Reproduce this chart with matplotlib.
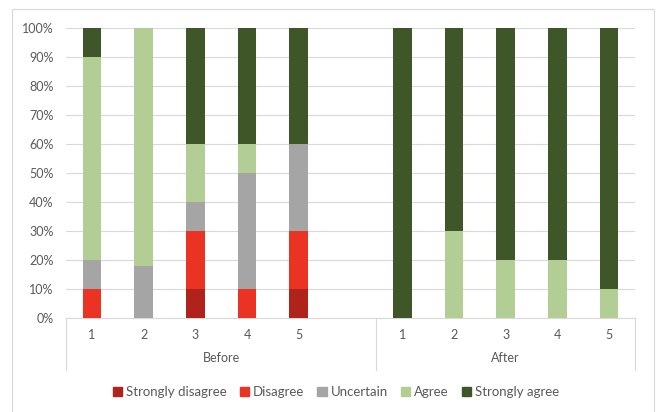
import matplotlib.pyplot as plt
import matplotlib.patches as mpatches
from matplotlib.transforms import blended_transform_factory
from matplotlib.ticker import PercentFormatter
import numpy as np

plt.rcParams['font.family'] = ['Lato', 'DejaVu Sans']

# data (percent of responses)
items = ['1', '2', '3', '4', '5']
groups = ['Before', 'After']
series = ['Strongly disagree', 'Disagree', 'Uncertain', 'Agree', 'Strongly agree']
colors = ['#B0231A', '#EA3323', '#A5A5A5', '#B2CE94', '#3F5628']

before_sd = [0, 0, 10, 0, 10]
before_d = [10, 0, 20, 10, 20]
before_u = [10, 18, 10, 40, 30]
before_a = [70, 82, 20, 10, 0]
before_sa = [10, 0, 40, 40, 40]

after_sd = [0, 0, 0, 0, 0]
after_d = [0, 0, 0, 0, 0]
after_u = [0, 0, 0, 0, 0]
after_a = [0, 30, 20, 20, 10]
after_sa = [100, 70, 80, 80, 90]

before = [before_sd, before_d, before_u, before_a, before_sa]
after = [after_sd, after_d, after_u, after_a, after_sa]

# slots: 5 before items + one empty slot, then 5 after items
x_before = np.arange(len(items))
x_after = np.arange(len(items)) + len(items) + 1
n_slots = len(items) * 2 + 1

fig = plt.figure(figsize=(6.58, 4.12), dpi=100)
ax = fig.add_axes([66 / 658, 94 / 412, (635 - 66) / 658, 290 / 412])

width = 0.36
for xs, data in [(x_before, before), (x_after, after)]:
    bottom = np.zeros(len(items))
    for vals, col in zip(data, colors):
        v = np.array(vals) / 100
        ax.bar(xs, v, width, bottom=bottom, color=col, zorder=3)
        bottom += v

ax.set_xlim(-0.5, n_slots - 0.5)
ax.set_ylim(0, 1)
ax.set_yticks(np.arange(0, 1.01, 0.1))
ax.yaxis.set_major_formatter(PercentFormatter(1.0, decimals=0))
ax.grid(axis='y', color='#D9D9D9', linewidth=0.8, zorder=0)
ax.tick_params(axis='y', length=0, labelsize=9, labelcolor='#595959', pad=9)
ax.set_xticks([])
for s in ['top', 'right', 'left']:
    ax.spines[s].set_visible(False)
ax.spines['bottom'].set_color('#D9D9D9')
ax.spines['bottom'].set_linewidth(0.8)

# multi-level category axis
trans = blended_transform_factory(ax.transData, ax.transAxes)
for xs in (x_before, x_after):
    for x, lab in zip(xs, items):
        ax.text(x, -0.058, lab, transform=trans, ha='center', va='center',
                fontsize=9, color='#595959')
ax.text((x_before[0] - 0.5 + len(items) + 0.5) / 2, -0.138, groups[0],
        transform=trans, ha='center', va='center', fontsize=9, color='#595959')
ax.text((x_after[0] - 0.5 + x_after[-1] + 0.5) / 2, -0.138, groups[1],
        transform=trans, ha='center', va='center', fontsize=9, color='#595959')
for xv in [-0.5, x_after[0] - 0.5, n_slots - 0.5]:
    ax.plot([xv, xv], [0, -0.179], transform=trans, color='#D9D9D9',
            linewidth=0.8, clip_on=False)

# legend
handles = [mpatches.Patch(color=c, label=s) for s, c in zip(series, colors)]
fig.legend(handles=handles, loc='center', bbox_to_anchor=(336 / 658, 1 - 392 / 412),
           ncol=5, frameon=False, fontsize=9.5, handlelength=0.7, handleheight=0.7,
           handletextpad=0.3, columnspacing=1.0, labelcolor='#595959')

# chart frame
fig.add_artist(mpatches.Rectangle((12 / 658, -0.05), (654 - 12) / 658, 1.05 - 9 / 412,
                                  transform=fig.transFigure, fill=False,
                                  edgecolor='#D9D9D9', linewidth=0.8))

plt.savefig('out.png', dpi=100, facecolor='white')
